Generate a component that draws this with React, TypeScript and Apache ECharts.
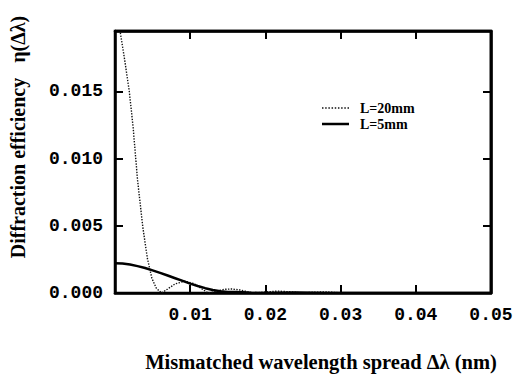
import React, { useEffect, useRef } from "react";
import * as echarts from "echarts";

// L = 20 mm (dotted)
const l20X = [0, 0.0007, 0.0013, 0.0019, 0.0024, 0.003, 0.0037, 0.0043, 0.0049, 0.0055, 0.0062, 0.007, 0.008, 0.0093, 0.0105, 0.0115, 0.0124, 0.0135, 0.0145, 0.0155, 0.0165, 0.0176, 0.0186, 0.02, 0.0217, 0.0235, 0.0248, 0.0265, 0.028, 0.03, 0.04, 0.05];
const l20Y = [0.0201, 0.0194, 0.0173, 0.015, 0.0124, 0.0084, 0.0049, 0.0026, 0.0011, 0.00035, 0, 0.0003, 0.00068, 0.00088, 0.0007, 0.00032, 0, 0.00012, 0.00027, 0.0003, 0.00024, 0.0001, 0, 0.00008, 0.00014, 0.00008, 0, 0.00006, 0.00008, 0.00002, 0, 0];

// L = 5 mm (solid)
const l5X = [0, 0.001, 0.002, 0.003, 0.004, 0.005, 0.006, 0.007, 0.008, 0.009, 0.01, 0.011, 0.012, 0.013, 0.014, 0.015, 0.016, 0.017, 0.018, 0.019, 0.02, 0.022, 0.024, 0.026, 0.028, 0.05];
const l5Y = [0.00222, 0.0022, 0.00212, 0.002, 0.00186, 0.00168, 0.0015, 0.0013, 0.0011, 0.0009, 0.0007, 0.00052, 0.00036, 0.00023, 0.00013, 0.00008, 0.00008, 0.00006, 0.00002, 0, 0, 0.00002, 0.00003, 0.00002, 0, 0];

const seriesNames = ["L=20mm", "L=5mm"];
const xTicks = [0.01, 0.02, 0.03, 0.04, 0.05];
const yTicks = [0, 0.005, 0.01, 0.015];
const xRange = [0, 0.05];
const yRange = [0, 0.0195];
const yTitle = "Diffraction efficiency   \u03b7(\u0394\u03bb)";
const xTitle = "Mismatched wavelength spread \u0394\u03bb (nm)";

const tickFont = { fontFamily: "Liberation Mono", fontWeight: "bold" as const, fontSize: 18, color: "#000" };

// legend line samples
const dottedIcon = "path://" + Array.from({ length: 9 }, (_, i) => `M${i * 3},0h1.4v1.4h-1.4z`).join(" ");
const solidIcon = "path://M0,0h27v2.5h-27z";

export default function App() {
  const ref = useRef<HTMLDivElement>(null);
  useEffect(() => {
    if (!ref.current) return;
    const chart = echarts.init(ref.current, null, { renderer: "svg" });
    const zip = (xs: number[], ys: number[]) => xs.map((x, i) => [x, ys[i]]);
    const fmtX = (v: number) => (xTicks.some((t) => Math.abs(t - v) < 1e-9) ? v.toFixed(2) : "");
    const fmtY = (v: number) => (yTicks.some((t) => Math.abs(t - v) < 1e-9) ? v.toFixed(3) : "");

    const grid = { left: 115, right: 21, top: 31, bottom: 86 };
    const axisBase = {
      type: "value" as const,
      splitLine: { show: false },
      axisLine: { show: true, onZero: false, lineStyle: { color: "#000", width: 2.5 } },
      axisTick: { show: true, inside: true, length: 8, lineStyle: { color: "#000", width: 2 } },
    };

    chart.setOption({
      animation: false,
      grid: { ...grid, show: true, borderColor: "#000", borderWidth: 2.5 },
      legend: {
        orient: "vertical",
        left: 317,
        top: 96,
        itemWidth: 27,
        itemHeight: 14,
        itemGap: 2,
        symbolKeepAspect: true,
        data: [
          { name: seriesNames[0], icon: dottedIcon },
          { name: seriesNames[1], icon: solidIcon },
        ],
        textStyle: { fontFamily: "Liberation Serif", fontWeight: "bold", fontSize: 14, color: "#000", padding: [0, 0, 0, 6] },
      },
      xAxis: [
        {
          ...axisBase,
          min: xRange[0],
          max: xRange[1],
          interval: 0.01,
          axisLabel: { ...tickFont, margin: 13, formatter: fmtX },
        },
        {
          ...axisBase,
          position: "top",
          min: xRange[0],
          max: xRange[1],
          interval: 0.01,
          axisLabel: { show: true, color: "rgba(0,0,0,0)", formatter: fmtX },
        },
      ],
      yAxis: [
        {
          ...axisBase,
          min: yRange[0],
          max: yRange[1],
          interval: 0.005,
          axisLabel: { ...tickFont, margin: 12, formatter: fmtY },
        },
        {
          ...axisBase,
          position: "right",
          min: yRange[0],
          max: yRange[1],
          interval: 0.005,
          axisLabel: { show: true, color: "rgba(0,0,0,0)", formatter: fmtY },
        },
      ],
      series: [
        {
          name: seriesNames[0],
          type: "line",
          data: zip(l20X, l20Y),
          symbol: "none",
          lineStyle: { color: "#111", width: 1.4, type: "dotted" },
          itemStyle: { color: "#111" },
        },
        {
          name: seriesNames[1],
          type: "line",
          data: zip(l5X, l5Y),
          symbol: "none",
          lineStyle: { color: "#000", width: 2.5 },
          itemStyle: { color: "#000" },
        },
        {
          name: "frame",
          type: "line",
          xAxisIndex: 1,
          yAxisIndex: 1,
          data: [
            [xRange[0], yRange[1]],
            [xRange[1], yRange[1]],
            [xRange[1], yRange[0]],
          ],
          symbol: "none",
          clip: false,
          silent: true,
          lineStyle: { color: "#000", width: 2.5 },
          itemStyle: { color: "#000" },
        },
      ],
      graphic: [
        {
          type: "text",
          x: 18,
          y: 137,
          rotation: Math.PI / 2,
          style: {
            text: yTitle,
            align: "center",
            verticalAlign: "middle",
            fontFamily: "Liberation Serif",
            fontWeight: "bold",
            fontSize: 20,
            fill: "#000",
          },
        },
        {
          type: "text",
          x: 321,
          y: 362,
          style: {
            text: xTitle,
            align: "center",
            verticalAlign: "middle",
            fontFamily: "Liberation Serif",
            fontWeight: "bold",
            fontSize: 20.5,
            fill: "#000",
          },
        },
      ],
    });
    return () => chart.dispose();
  }, []);
  return <div ref={ref} style={{ width: 532, height: 379, position: "absolute", left: 0, top: 0 }} />;
}
